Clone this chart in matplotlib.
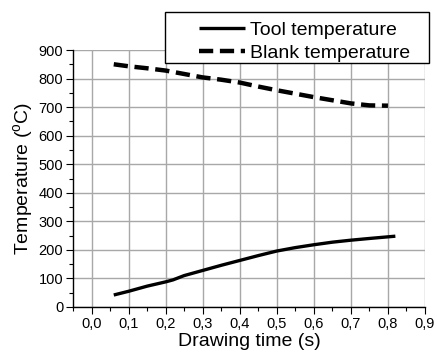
import matplotlib
matplotlib.use("Agg")
import matplotlib.pyplot as plt
from matplotlib.ticker import MultipleLocator, FuncFormatter
from matplotlib.patches import Rectangle

plt.rcParams['font.family'] = ['Liberation Sans', 'DejaVu Sans']
plt.rcParams['mathtext.fontset'] = 'custom'
plt.rcParams['mathtext.rm'] = 'Liberation Sans'

tool_t = [0.06, 0.1, 0.15, 0.2, 0.22, 0.25, 0.3, 0.35, 0.4, 0.45, 0.5, 0.55, 0.6, 0.65, 0.7, 0.75, 0.82]
tool_temp = [42, 55, 73, 88, 95, 110, 128, 146, 163, 180, 196, 208, 218, 227, 234, 240, 248]
blank_t = [0.06, 0.1, 0.15, 0.2, 0.25, 0.3, 0.35, 0.4, 0.45, 0.5, 0.55, 0.6, 0.65, 0.7, 0.75, 0.8]
blank_temp = [850, 843, 836, 828, 816, 804, 796, 786, 772, 759, 747, 735, 724, 713, 706, 705]
xticks = [0.0, 0.1, 0.2, 0.3, 0.4, 0.5, 0.6, 0.7, 0.8, 0.9]
yticks = [0, 100, 200, 300, 400, 500, 600, 700, 800, 900]

W, H = 437, 353
fig = plt.figure(figsize=(W / 100, H / 100), dpi=100)
ax = fig.add_axes([73 / W, 1 - 307 / H, (425 - 73) / W, (307 - 50) / H])

ax.plot(tool_t, tool_temp, color='black', lw=2.4, label='Tool temperature', solid_capstyle='butt')
ax.plot(blank_t, blank_temp, color='black', lw=3.2, dashes=(3.2, 1.5), label='Blank temperature', dash_capstyle='butt')

ax.set_xlim(-0.05, 0.9)
ax.set_ylim(0, 900)
ax.set_xticks(xticks)
ax.set_yticks(yticks)
ax.xaxis.set_minor_locator(MultipleLocator(0.05))
ax.yaxis.set_minor_locator(MultipleLocator(50))
ax.xaxis.set_major_formatter(FuncFormatter(lambda v, p: f"{v:.1f}".replace('.', ',')))
ax.tick_params(axis='both', which='major', direction='out', length=5, width=0.8, labelsize=10.5, pad=2, color='black')
ax.tick_params(axis='both', which='minor', direction='out', length=3, width=0.8)

ax.grid(True, which='major', color='#a8a8a8', lw=1.0)
ax.set_axisbelow(True)
for s in ['top', 'right']:
    ax.spines[s].set_visible(False)
for s in ['left', 'bottom']:
    ax.spines[s].set_linewidth(1.0)

ax.set_xlabel('Drawing time (s)', fontsize=14, labelpad=2)
ax.set_ylabel('Temperature ($^{\\mathrm{o}}$C)', fontsize=14, labelpad=2)

leg = fig.legend(loc='upper left', bbox_to_anchor=(199 / W, 1 - 21 / H), fontsize=14,
                 frameon=False, handlelength=2.37, borderpad=0, labelspacing=0.3,
                 handletextpad=0.26, borderaxespad=0)

fig.add_artist(Rectangle((165 / W, 1 - 63 / H), (429 - 165) / W, 51 / H,
                         transform=fig.transFigure, fill=True, facecolor='white',
                         edgecolor='black', lw=1.0, zorder=4))
leg.set_zorder(5)

fig.savefig('out.png', dpi=100)
